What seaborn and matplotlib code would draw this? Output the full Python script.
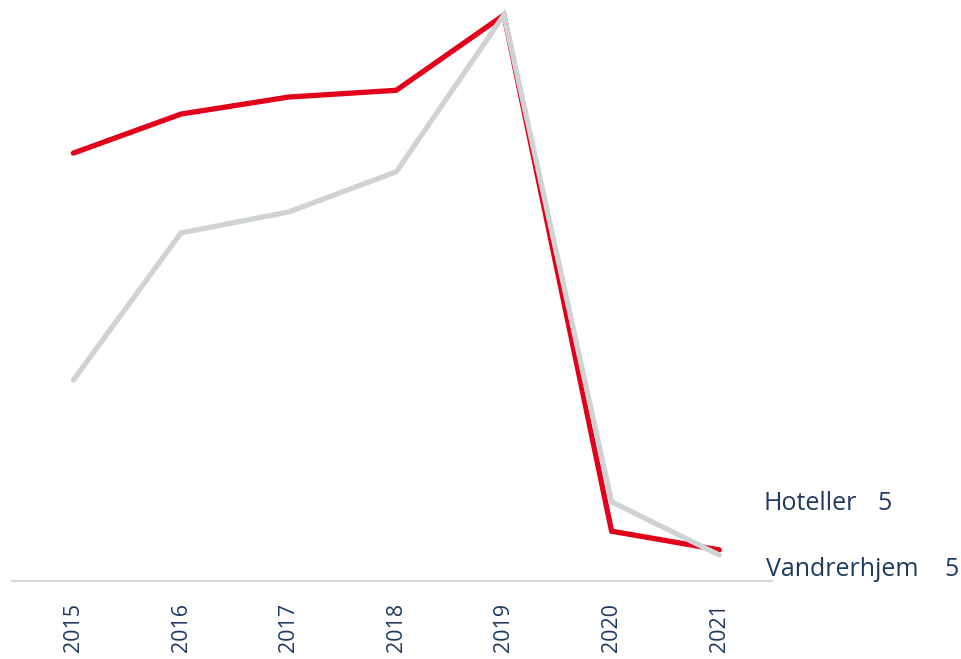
import matplotlib
matplotlib.use("Agg")
import matplotlib.pyplot as plt
import seaborn as sns
import pandas as pd

years = ["2015", "2016", "2017", "2018", "2019", "2020", "2021"]
hoteller = [75.6, 82.5, 85.5, 86.7, 100.0, 8.8, 5.5]
vandrerhjem = [35.5, 61.5, 65.2, 72.3, 100.0, 14.0, 4.6]
series_names = ["Hoteller", "Vandrerhjem"]
end_labels = ["5", "5"]

sns.set_theme(style="white")
plt.rcParams['font.family'] = ['Open Sans', 'DejaVu Sans']

df = pd.DataFrame({
    "year": years * 2,
    "value": hoteller + vandrerhjem,
    "series": [series_names[0]] * len(years) + [series_names[1]] * len(years),
})
df["x"] = list(range(len(years))) * 2

fig = plt.figure(figsize=(9.61, 6.59), dpi=100)
ax = fig.add_axes([12/961, 1 - 581/659, (772 - 12)/961, (581 - 15)/659])

sns.lineplot(data=df, x="x", y="value", hue="series",
             palette={"Hoteller": "#e2001a", "Vandrerhjem": "#d0d3d4"},
             linewidth=3.8, ax=ax, legend=False, clip_on=False,
             solid_capstyle="round", solid_joinstyle="miter")

ax.set_xlim(-0.57, 6.49)
ax.set_ylim(0, 100)
ax.set_xticks(range(len(years)))
ax.set_xticklabels(years, rotation=90, fontsize=15.5, color="#1f3a5f", va="top")
ax.tick_params(axis="x", length=0, pad=16)
ax.set_yticks([])
ax.set_xlabel("")
ax.set_ylabel("")
for s in ["top", "right", "left"]:
    ax.spines[s].set_visible(False)
ax.spines["bottom"].set_color("#d9d9d9")
ax.spines["bottom"].set_linewidth(1.5)

navy = "#1f3a5f"
label_pos = [(763, 877, 504), (766, 944, 570)]
for name, val, (xn, xv, yc) in zip(series_names, end_labels, label_pos):
    fig.text(xn/961, 1 - yc/659, name, fontsize=18, color=navy, va="center", ha="left")
    fig.text(xv/961, 1 - yc/659, val, fontsize=18, color=navy, va="center", ha="left")

fig.savefig("out.png", dpi=100)
